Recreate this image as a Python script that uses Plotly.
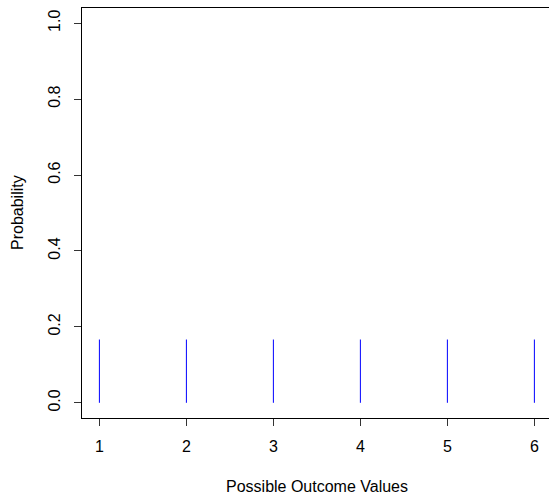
import plotly.graph_objects as go

outcomes = [1, 2, 3, 4, 5, 6]
probabilities = [0.1667, 0.1667, 0.1667, 0.1667, 0.1667, 0.1667]
y_ticks = [0.0, 0.2, 0.4, 0.6, 0.8, 1.0]
y_tick_labels = ["0.0", "0.2", "0.4", "0.6", "0.8", "1.0"]
x_label = "Possible Outcome Values"
y_label = "Probability"

W, H = 549, 495
ML, MR, MT, MB = 82, 0, 8, 77
FONT = "Liberation Sans, Arial, sans-serif"
FS = 16

xs, ys = [], []
for x, p in zip(outcomes, probabilities):
    xs += [x, x, None]
    ys += [0, p, None]

fig = go.Figure()
fig.add_trace(go.Scatter(x=xs, y=ys, mode="lines",
                         line=dict(color="#0000ff", width=1),
                         hoverinfo="skip", showlegend=False))

plot_h = H - MT - MB
plot_w = W - ML - MR

fig.update_layout(
    width=W, height=H,
    margin=dict(l=ML, r=MR, t=MT, b=MB, pad=0),
    paper_bgcolor="white", plot_bgcolor="white",
    font=dict(family=FONT, size=FS, color="black"),
    showlegend=False,
    xaxis=dict(range=[0.8, 6.168], tickvals=outcomes, ticktext=[str(v) for v in outcomes],
               showgrid=False, zeroline=False, showline=True, mirror=True,
               linecolor="black", linewidth=1, ticks="outside", ticklen=7,
               tickcolor="#333333", tickwidth=1, ticklabelstandoff=7),
    yaxis=dict(range=[-0.04, 1.04], tickvals=y_ticks, ticktext=y_tick_labels,
               showgrid=False, zeroline=False, showline=True, mirror=False,
               linecolor="black", linewidth=1, ticks="outside", ticklen=7,
               tickcolor="#333333", tickwidth=1, tickangle=-90, ticklabelstandoff=8),
    annotations=[
        dict(text=x_label, xref="paper", yref="paper",
             x=(317 - ML) / plot_w, y=-(487 - (H - MB)) / plot_h,
             xanchor="center", yanchor="middle", showarrow=False,
             font=dict(family=FONT, size=FS, color="black")),
        dict(text=y_label, xref="paper", yref="paper",
             x=-(ML - 17) / plot_w, y=((H - MB) - 213) / plot_h,
             xanchor="center", yanchor="middle", showarrow=False, textangle=-90,
             font=dict(family=FONT, size=FS, color="black")),
    ],
)

fig.write_html("out.html", config={"displayModeBar": False})

with open("out.html", "r", encoding="utf-8") as f:
    html = f.read()
html = html.replace("<head>", "<head><style>html,body{margin:0;padding:0;overflow:hidden;}</style>", 1)
with open("out.html", "w", encoding="utf-8") as f:
    f.write(html)
